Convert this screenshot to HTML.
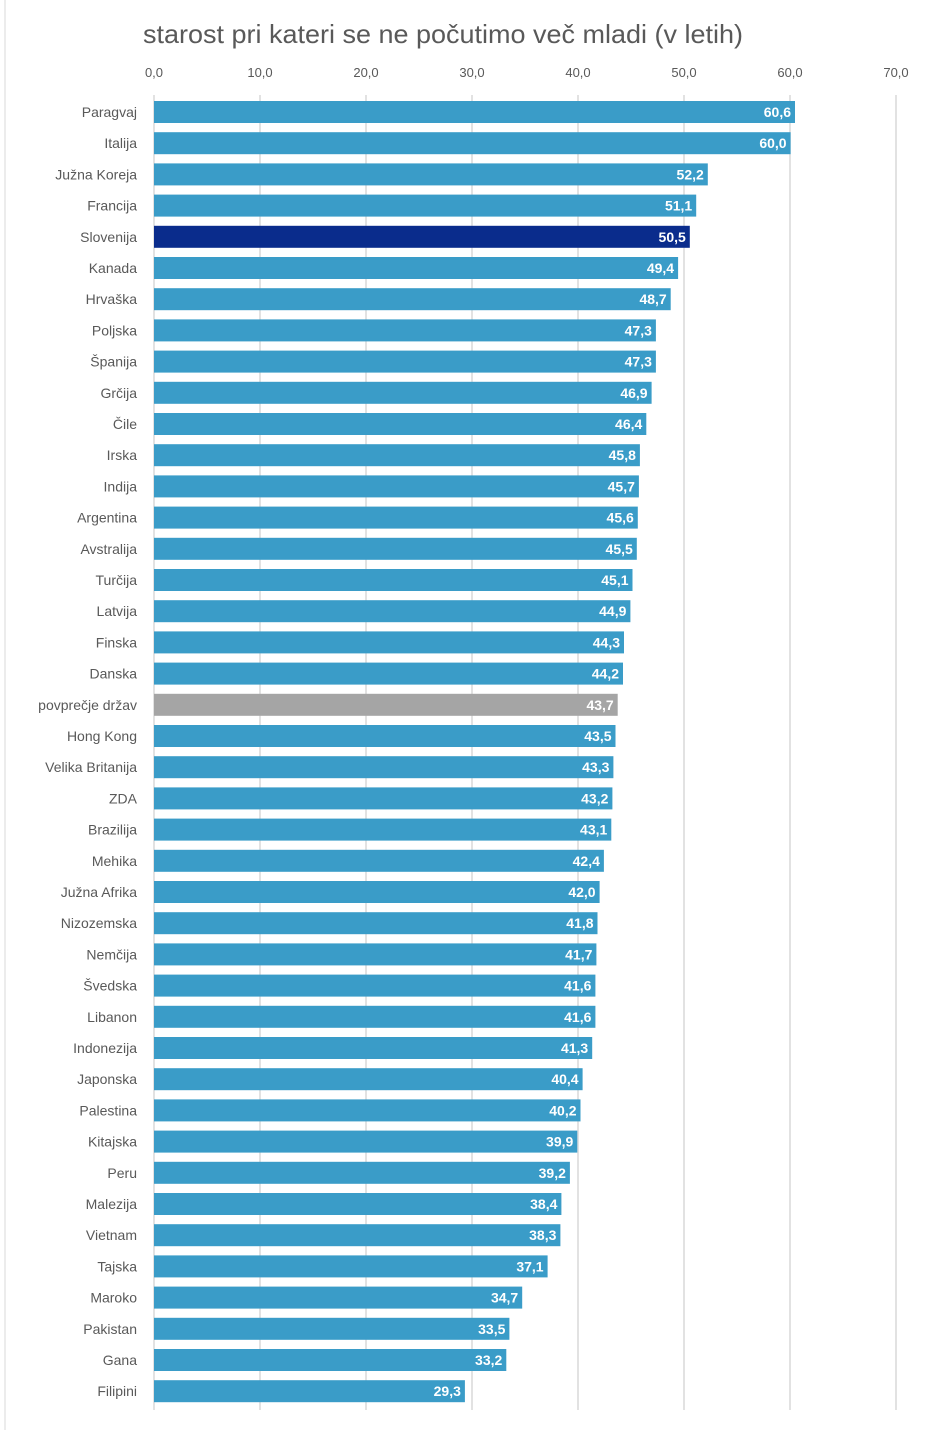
<!DOCTYPE html>
<html><head><meta charset="utf-8"><style>
html,body{margin:0;padding:0;background:#fff;width:940px;height:1430px;overflow:hidden}
svg{display:block}
.c{font-family:"Liberation Sans",sans-serif;font-size:14px;fill:#595959;text-anchor:end}
.v{font-family:"Liberation Sans",sans-serif;font-size:14px;font-weight:bold;fill:#fff;text-anchor:end}
.t{font-family:"Liberation Sans",sans-serif;font-size:13px;fill:#595959;text-anchor:middle}
</style></head><body>
<svg width="940" height="1430" xmlns="http://www.w3.org/2000/svg">
<line x1="5" y1="0" x2="5" y2="1430" stroke="#d9d9d9"/>
<text x="143" y="43" textLength="600" lengthAdjust="spacingAndGlyphs" style="font-family:'Liberation Sans',sans-serif;font-size:26px;fill:#595959">starost pri kateri se ne počutimo več mladi  (v letih)</text>
<g class="t">
<text x="154" y="77" class="t">0,0</text><text x="260" y="77" class="t">10,0</text><text x="366" y="77" class="t">20,0</text><text x="472" y="77" class="t">30,0</text><text x="578" y="77" class="t">40,0</text><text x="684" y="77" class="t">50,0</text><text x="790" y="77" class="t">60,0</text><text x="896" y="77" class="t">70,0</text>
</g>
<g stroke="#d9d9d9" stroke-width="1.5">
<line x1="154" y1="95" x2="154" y2="1410"/><line x1="260" y1="95" x2="260" y2="1410"/><line x1="366" y1="95" x2="366" y2="1410"/><line x1="472" y1="95" x2="472" y2="1410"/><line x1="578" y1="95" x2="578" y2="1410"/><line x1="684" y1="95" x2="684" y2="1410"/><line x1="790" y1="95" x2="790" y2="1410"/><line x1="896" y1="95" x2="896" y2="1410"/>
</g>
<g fill="#3a9cc8">
<g transform="translate(0,101)"><rect x="154" width="641" height="22"/><text class="c" x="137" y="16">Paragvaj</text><text class="v" x="791" y="16">60,6</text></g>
<g transform="translate(0,132.2)"><rect x="154" width="636.6" height="22"/><text class="c" x="137" y="16">Italija</text><text class="v" x="786.6" y="16">60,0</text></g>
<g transform="translate(0,163.4)"><rect x="154" width="553.8" height="22"/><text class="c" x="137" y="16">Južna Koreja</text><text class="v" x="703.8" y="16">52,2</text></g>
<g transform="translate(0,194.6)"><rect x="154" width="542.2" height="22"/><text class="c" x="137" y="16">Francija</text><text class="v" x="692.2" y="16">51,1</text></g>
<g transform="translate(0,225.8)"><rect x="154" width="535.8" height="22" fill="#0a2c8c"/><text class="c" x="137" y="16">Slovenija</text><text class="v" x="685.8" y="16">50,5</text></g>
<g transform="translate(0,257)"><rect x="154" width="524.1" height="22"/><text class="c" x="137" y="16">Kanada</text><text class="v" x="674.1" y="16">49,4</text></g>
<g transform="translate(0,288.2)"><rect x="154" width="516.7" height="22"/><text class="c" x="137" y="16">Hrvaška</text><text class="v" x="666.7" y="16">48,7</text></g>
<g transform="translate(0,319.4)"><rect x="154" width="501.9" height="22"/><text class="c" x="137" y="16">Poljska</text><text class="v" x="651.9" y="16">47,3</text></g>
<g transform="translate(0,350.6)"><rect x="154" width="501.9" height="22"/><text class="c" x="137" y="16">Španija</text><text class="v" x="651.9" y="16">47,3</text></g>
<g transform="translate(0,381.8)"><rect x="154" width="497.6" height="22"/><text class="c" x="137" y="16">Grčija</text><text class="v" x="647.6" y="16">46,9</text></g>
<g transform="translate(0,413)"><rect x="154" width="492.3" height="22"/><text class="c" x="137" y="16">Čile</text><text class="v" x="642.3" y="16">46,4</text></g>
<g transform="translate(0,444.2)"><rect x="154" width="485.9" height="22"/><text class="c" x="137" y="16">Irska</text><text class="v" x="635.9" y="16">45,8</text></g>
<g transform="translate(0,475.4)"><rect x="154" width="484.9" height="22"/><text class="c" x="137" y="16">Indija</text><text class="v" x="634.9" y="16">45,7</text></g>
<g transform="translate(0,506.6)"><rect x="154" width="483.8" height="22"/><text class="c" x="137" y="16">Argentina</text><text class="v" x="633.8" y="16">45,6</text></g>
<g transform="translate(0,537.8)"><rect x="154" width="482.8" height="22"/><text class="c" x="137" y="16">Avstralija</text><text class="v" x="632.8" y="16">45,5</text></g>
<g transform="translate(0,569)"><rect x="154" width="478.5" height="22"/><text class="c" x="137" y="16">Turčija</text><text class="v" x="628.5" y="16">45,1</text></g>
<g transform="translate(0,600.2)"><rect x="154" width="476.4" height="22"/><text class="c" x="137" y="16">Latvija</text><text class="v" x="626.4" y="16">44,9</text></g>
<g transform="translate(0,631.4)"><rect x="154" width="470" height="22"/><text class="c" x="137" y="16">Finska</text><text class="v" x="620" y="16">44,3</text></g>
<g transform="translate(0,662.6)"><rect x="154" width="469" height="22"/><text class="c" x="137" y="16">Danska</text><text class="v" x="619" y="16">44,2</text></g>
<g transform="translate(0,693.8)"><rect x="154" width="463.7" height="22" fill="#a5a5a5"/><text class="c" x="137" y="16">povprečje držav</text><text class="v" x="613.7" y="16">43,7</text></g>
<g transform="translate(0,725)"><rect x="154" width="461.5" height="22"/><text class="c" x="137" y="16">Hong Kong</text><text class="v" x="611.5" y="16">43,5</text></g>
<g transform="translate(0,756.2)"><rect x="154" width="459.4" height="22"/><text class="c" x="137" y="16">Velika Britanija</text><text class="v" x="609.4" y="16">43,3</text></g>
<g transform="translate(0,787.4)"><rect x="154" width="458.4" height="22"/><text class="c" x="137" y="16">ZDA</text><text class="v" x="608.4" y="16">43,2</text></g>
<g transform="translate(0,818.6)"><rect x="154" width="457.3" height="22"/><text class="c" x="137" y="16">Brazilija</text><text class="v" x="607.3" y="16">43,1</text></g>
<g transform="translate(0,849.8)"><rect x="154" width="449.9" height="22"/><text class="c" x="137" y="16">Mehika</text><text class="v" x="599.9" y="16">42,4</text></g>
<g transform="translate(0,881)"><rect x="154" width="445.6" height="22"/><text class="c" x="137" y="16">Južna Afrika</text><text class="v" x="595.6" y="16">42,0</text></g>
<g transform="translate(0,912.2)"><rect x="154" width="443.5" height="22"/><text class="c" x="137" y="16">Nizozemska</text><text class="v" x="593.5" y="16">41,8</text></g>
<g transform="translate(0,943.4)"><rect x="154" width="442.4" height="22"/><text class="c" x="137" y="16">Nemčija</text><text class="v" x="592.4" y="16">41,7</text></g>
<g transform="translate(0,974.6)"><rect x="154" width="441.4" height="22"/><text class="c" x="137" y="16">Švedska</text><text class="v" x="591.4" y="16">41,6</text></g>
<g transform="translate(0,1005.8)"><rect x="154" width="441.4" height="22"/><text class="c" x="137" y="16">Libanon</text><text class="v" x="591.4" y="16">41,6</text></g>
<g transform="translate(0,1037)"><rect x="154" width="438.2" height="22"/><text class="c" x="137" y="16">Indonezija</text><text class="v" x="588.2" y="16">41,3</text></g>
<g transform="translate(0,1068.2)"><rect x="154" width="428.6" height="22"/><text class="c" x="137" y="16">Japonska</text><text class="v" x="578.6" y="16">40,4</text></g>
<g transform="translate(0,1099.4)"><rect x="154" width="426.5" height="22"/><text class="c" x="137" y="16">Palestina</text><text class="v" x="576.5" y="16">40,2</text></g>
<g transform="translate(0,1130.6)"><rect x="154" width="423.3" height="22"/><text class="c" x="137" y="16">Kitajska</text><text class="v" x="573.3" y="16">39,9</text></g>
<g transform="translate(0,1161.8)"><rect x="154" width="415.9" height="22"/><text class="c" x="137" y="16">Peru</text><text class="v" x="565.9" y="16">39,2</text></g>
<g transform="translate(0,1193)"><rect x="154" width="407.4" height="22"/><text class="c" x="137" y="16">Malezija</text><text class="v" x="557.4" y="16">38,4</text></g>
<g transform="translate(0,1224.2)"><rect x="154" width="406.4" height="22"/><text class="c" x="137" y="16">Vietnam</text><text class="v" x="556.4" y="16">38,3</text></g>
<g transform="translate(0,1255.4)"><rect x="154" width="393.6" height="22"/><text class="c" x="137" y="16">Tajska</text><text class="v" x="543.6" y="16">37,1</text></g>
<g transform="translate(0,1286.6)"><rect x="154" width="368.2" height="22"/><text class="c" x="137" y="16">Maroko</text><text class="v" x="518.2" y="16">34,7</text></g>
<g transform="translate(0,1317.8)"><rect x="154" width="355.4" height="22"/><text class="c" x="137" y="16">Pakistan</text><text class="v" x="505.4" y="16">33,5</text></g>
<g transform="translate(0,1349)"><rect x="154" width="352.3" height="22"/><text class="c" x="137" y="16">Gana</text><text class="v" x="502.3" y="16">33,2</text></g>
<g transform="translate(0,1380.2)"><rect x="154" width="310.9" height="22"/><text class="c" x="137" y="16">Filipini</text><text class="v" x="460.9" y="16">29,3</text></g>
</g>
</svg>
</body></html>
